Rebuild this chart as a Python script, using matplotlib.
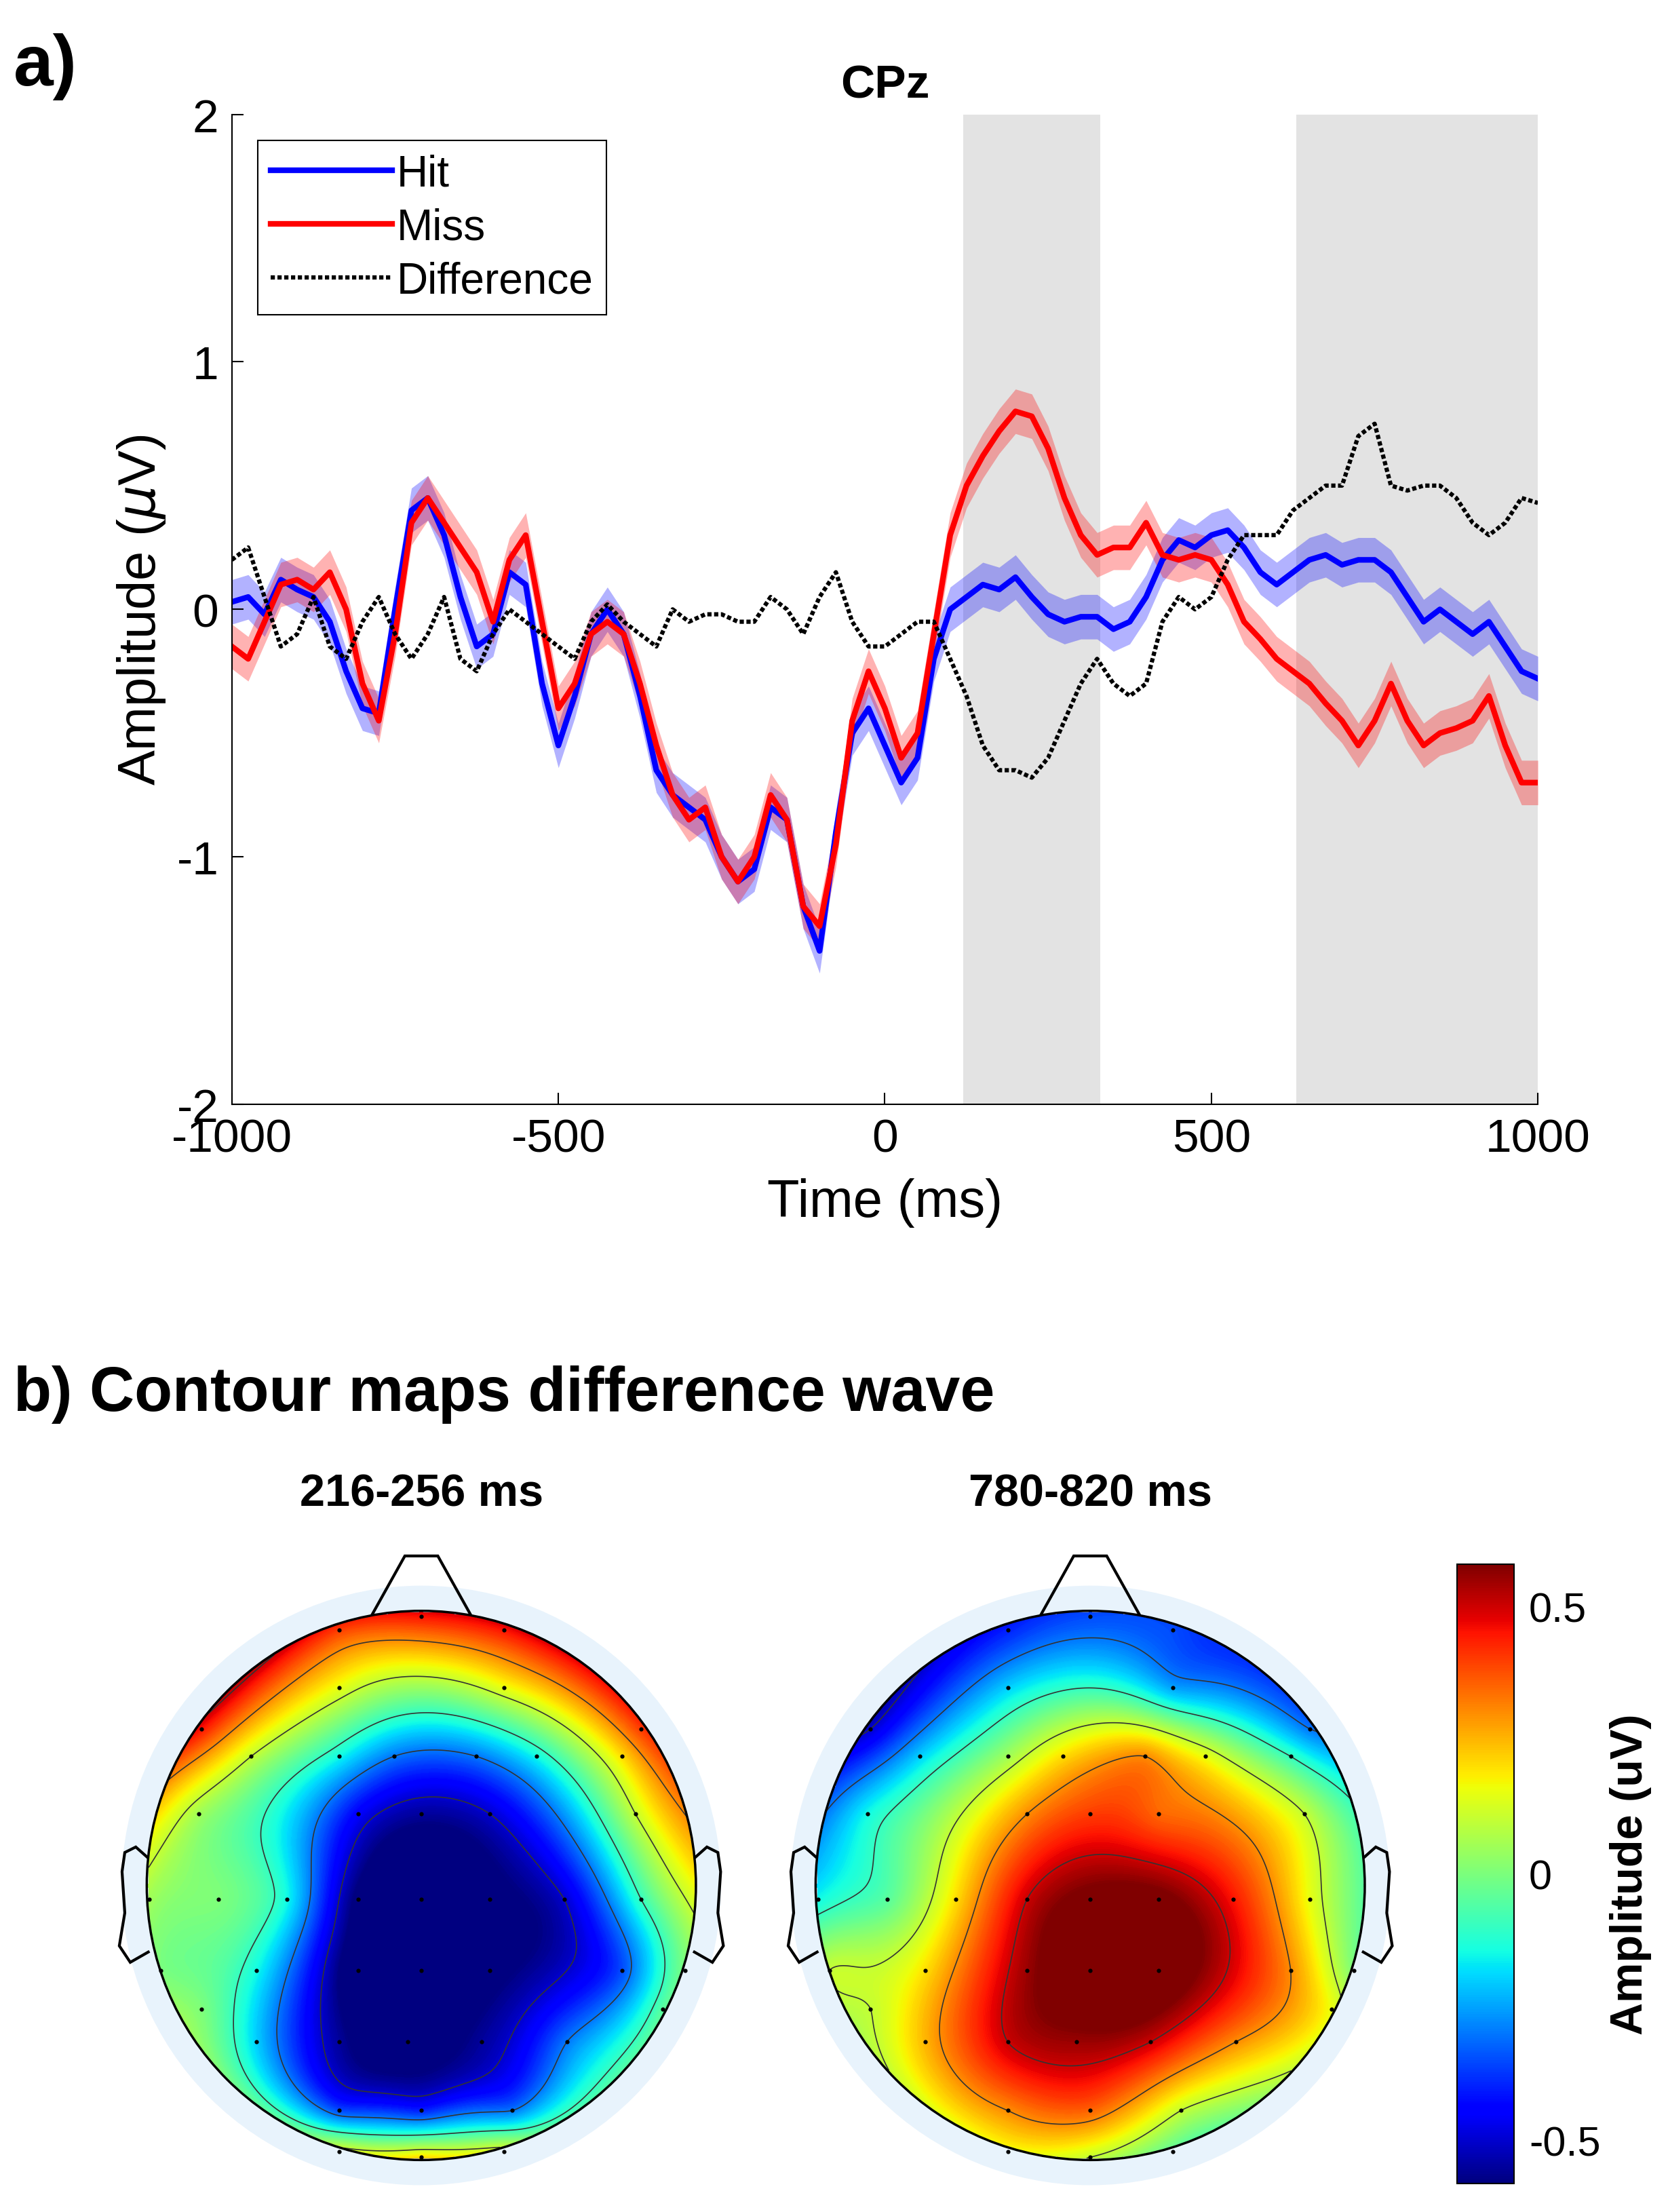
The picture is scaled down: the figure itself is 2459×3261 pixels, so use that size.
import numpy as np
import matplotlib
matplotlib.use("Agg")
import matplotlib.pyplot as plt
from matplotlib.patches import Circle, Polygon

# ---- ERP data (CPz), 25 ms steps ----
time_ms = np.arange(-1000, 1001, 25)
hit = [0.03, 0.05, -0.02, 0.12, 0.08, 0.05, -0.05, -0.25, -0.4, -0.42, 0.0, 0.4, 0.45, 0.3, 0.05, -0.15,
       -0.1, 0.15, 0.1, -0.3, -0.55, -0.35, -0.1, 0.0, -0.1, -0.35, -0.65, -0.75, -0.8, -0.85, -1.0, -1.1,
       -1.05, -0.8, -0.85, -1.2, -1.38, -0.9, -0.5, -0.4, -0.55, -0.7, -0.6, -0.2, 0.0, 0.05, 0.1, 0.08,
       0.13, 0.05, -0.02, -0.05, -0.03, -0.03, -0.08, -0.05, 0.05, 0.2, 0.28, 0.25, 0.3, 0.32, 0.25, 0.15,
       0.1, 0.15, 0.2, 0.22, 0.18, 0.2, 0.2, 0.15, 0.05, -0.05, 0.0, -0.05, -0.1, -0.05, -0.15, -0.25, -0.28]
miss = [-0.15, -0.2, -0.05, 0.1, 0.12, 0.08, 0.15, 0.0, -0.3, -0.45, -0.1, 0.35, 0.45, 0.35, 0.25, 0.15,
        -0.05, 0.2, 0.3, -0.05, -0.4, -0.3, -0.1, -0.05, -0.1, -0.3, -0.55, -0.75, -0.85, -0.8, -1.0, -1.1,
        -1.0, -0.75, -0.85, -1.2, -1.28, -0.95, -0.45, -0.25, -0.4, -0.6, -0.5, -0.1, 0.3, 0.5, 0.62, 0.72,
        0.8, 0.78, 0.65, 0.45, 0.3, 0.22, 0.25, 0.25, 0.35, 0.22, 0.2, 0.22, 0.2, 0.1, -0.05, -0.12,
        -0.2, -0.25, -0.3, -0.38, -0.45, -0.55, -0.45, -0.3, -0.45, -0.55, -0.5, -0.48, -0.45, -0.35, -0.55, -0.7, -0.7]
difference = [0.2, 0.25, 0.05, -0.15, -0.1, 0.05, -0.15, -0.2, -0.05, 0.05, -0.1, -0.2, -0.1, 0.05, -0.2, -0.25,
              -0.1, 0.0, -0.05, -0.1, -0.15, -0.2, -0.05, 0.02, -0.05, -0.1, -0.15, 0.0, -0.05, -0.02, -0.02, -0.05,
              -0.05, 0.05, 0.0, -0.1, 0.05, 0.15, -0.05, -0.15, -0.15, -0.1, -0.05, -0.05, -0.2, -0.35, -0.55, -0.65,
              -0.65, -0.68, -0.6, -0.45, -0.3, -0.2, -0.3, -0.35, -0.3, -0.05, 0.05, 0.0, 0.05, 0.2, 0.3, 0.3,
              0.3, 0.4, 0.45, 0.5, 0.5, 0.7, 0.75, 0.5, 0.48, 0.5, 0.5, 0.45, 0.35, 0.3, 0.35, 0.45, 0.43]
sem_hit = 0.09
sem_miss = 0.09
windows = [(120, 330), (630, 1000)]

# ---- topomap electrodes (head radius units) ----
elec_x = [0, -0.3, 0.3, -0.3, 0.3, -0.8, 0.8, -0.62, -0.3, -0.1, 0.2, 0.42, 0.73,
          -0.81, -0.23, 0, 0.25, 0.78, -0.99, -0.74, -0.49, -0.23, 0, 0.25, 0.52, 0.8,
          -0.95, -0.6, -0.23, 0, 0.25, 0.73, 0.96, -0.8, 0.88, -0.6, -0.3, -0.05, 0.22, 0.53,
          -0.3, 0, 0.33, -0.3, 0, 0.3]
elec_y = [0.98, 0.93, 0.93, 0.72, 0.72, 0.57, 0.57, 0.47, 0.47, 0.47, 0.47, 0.47, 0.47,
          0.26, 0.26, 0.26, 0.26, 0.26, -0.05, -0.05, -0.05, -0.05, -0.05, -0.05, -0.05, -0.05,
          -0.31, -0.31, -0.31, -0.31, -0.31, -0.31, -0.31, -0.45, -0.45, -0.57, -0.57, -0.57, -0.57, -0.57,
          -0.82, -0.82, -0.82, -0.97, -0.99, -0.97]
map_216 = [0.45, 0.4, 0.45, 0.15, 0.15, 0.45, 0.4, 0.1, -0.15, -0.3, -0.3, -0.15, 0.2,
           0.05, -0.45, -0.55, -0.5, 0.1, 0.05, 0.0, -0.15, -0.6, -0.65, -0.6, -0.5, -0.1,
           0.0, -0.15, -0.65, -0.65, -0.6, -0.35, 0.0, 0.0, -0.05, -0.2, -0.55, -0.6, -0.55, -0.3,
           -0.35, -0.4, -0.3, 0.15, 0.2, 0.15]
map_780 = [-0.35, -0.4, -0.35, -0.2, -0.25, -0.5, -0.3, -0.2, 0.05, 0.2, 0.3, 0.15, -0.1,
           -0.15, 0.3, 0.4, 0.35, 0.1, -0.15, -0.05, 0.2, 0.5, 0.6, 0.6, 0.45, 0.15,
           0.1, 0.2, 0.55, 0.65, 0.65, 0.3, 0.0, 0.1, 0.15, 0.25, 0.5, 0.55, 0.5, 0.3,
           0.3, 0.35, 0.1, 0.15, 0.1, -0.05]
map_titles = ["216-256 ms", "780-820 ms"]


def biharmonic(xe, ye, ve, gx, gy):
    xe, ye, ve = map(np.asarray, (xe, ye, ve))
    d = np.hypot(xe[:, None] - xe[None, :], ye[:, None] - ye[None, :])
    with np.errstate(divide="ignore", invalid="ignore"):
        G = np.where(d > 0, d ** 2 * (np.log(d) - 1), 0)
    w = np.linalg.solve(G, ve)
    dg = np.hypot(gx[..., None] - xe, gy[..., None] - ye)
    with np.errstate(divide="ignore", invalid="ignore"):
        Gg = np.where(dg > 0, dg ** 2 * (np.log(dg) - 1), 0)
    return Gg @ w


plt.rcParams["font.family"] = "Liberation Sans"
plt.rcParams["axes.unicode_minus"] = False
plt.rcParams["mathtext.fontset"] = "dejavusans"
fig = plt.figure(figsize=(24.59, 32.62), dpi=100)

# ---- panel a ----
ax = fig.add_axes([0.139, 0.5006, 0.783, 0.4474])
for a, b in windows:
    ax.axvspan(a, b, color="#e3e3e3", lw=0, zorder=0)
ax.fill_between(time_ms, np.array(hit) - sem_hit, np.array(hit) + sem_hit, color="#0000ff", alpha=0.3, lw=0)
ax.fill_between(time_ms, np.array(miss) - sem_miss, np.array(miss) + sem_miss, color="#ff0000", alpha=0.3, lw=0)
ax.plot(time_ms, hit, color="#0000ff", lw=6, label="Hit")
ax.plot(time_ms, miss, color="#ff0000", lw=6, label="Miss")
ax.plot(time_ms, difference, color="black", lw=4.5, ls=(0, (1, 0.6)), label="Difference")
ax.set_xlim(-1000, 1000)
ax.set_ylim(-2, 2)
ax.set_xticks([-1000, -500, 0, 500, 1000])
ax.set_yticks([-2, -1, 0, 1, 2])
ax.tick_params(direction="in", labelsize=50, length=12, width=1.5, pad=14)
for s in ["top", "right"]:
    ax.spines[s].set_visible(False)
for s in ["left", "bottom"]:
    ax.spines[s].set_linewidth(1.5)
ax.set_xlabel("Time (ms)", fontsize=56, labelpad=18)
ax.set_ylabel("Amplitude ($\\mu$V)", fontsize=56, labelpad=10)
ax.set_title("CPz", fontsize=50, fontweight="bold", pad=18)
leg = ax.legend(loc="upper left", fontsize=46, handlelength=2.8, handletextpad=0.1,
                borderaxespad=0.6, fancybox=False, edgecolor="black", framealpha=1,
                labelspacing=0.3, borderpad=0.3)
leg.get_frame().set_linewidth(1.5)
fig.text(0.008, 0.985, "a)", fontsize=76, fontweight="bold", va="top")
fig.text(0.008, 0.383, "b) Contour maps difference wave", fontsize=66, fontweight="bold", va="top")

# ---- panel b ----
gx, gy = np.meshgrid(np.linspace(-1, 1, 301), np.linspace(-1, 1, 301))
inside = np.hypot(gx, gy) <= 1.0
levels = np.linspace(-0.58, 0.58, 200)
for i, (vals, left) in enumerate([(map_216, 0.0386), (map_780, 0.4396)]):
    tax = fig.add_axes([left, 0.011, 0.428, 0.298])
    tax.patch.set_alpha(0)
    z = biharmonic(elec_x, elec_y, vals, gx, gy)
    z = np.clip(z, -0.579, 0.579)
    z = np.where(inside, z, np.nan)
    tax.add_patch(Circle((0, 0), 1.09, color="#e8f3fc", zorder=0))
    tax.contourf(gx, gy, z, levels=levels, cmap="jet", zorder=1)
    tax.contour(gx, gy, z, levels=[-0.5, -0.3, -0.1, 0.1, 0.3, 0.5], colors="#333333",
                linewidths=1.2, linestyles="solid", zorder=2)
    tax.add_patch(Circle((0, 0), 1.0, fill=False, ec="black", lw=2.5, zorder=3))
    tax.add_patch(Polygon([[-0.18, 0.985], [-0.06, 1.2], [0.06, 1.2], [0.18, 0.985]],
                          closed=False, fill=False, ec="black", lw=3, zorder=3))
    for sgn in (-1, 1):
        ear = [[sgn * 0.995, 0.1], [sgn * 1.04, 0.14], [sgn * 1.08, 0.12], [sgn * 1.09, 0.05],
               [sgn * 1.08, -0.1], [sgn * 1.1, -0.22], [sgn * 1.06, -0.28], [sgn * 0.99, -0.24]]
        tax.add_patch(Polygon(ear, closed=False, fill=False, ec="black", lw=3, zorder=3))
    tax.scatter(elec_x, elec_y, s=12, color="black", zorder=4)
    tax.set_xlim(-1.3, 1.3)
    tax.set_ylim(-1.1, 1.3)
    tax.set_aspect("equal")
    tax.axis("off")
    tax.text(0, 1.35, map_titles[i], ha="center", va="bottom", fontsize=48, fontweight="bold")

cax = fig.add_axes([0.8735, 0.0129, 0.034, 0.28])
sm = matplotlib.cm.ScalarMappable(norm=matplotlib.colors.Normalize(-0.58, 0.58), cmap="jet")
cb = fig.colorbar(sm, cax=cax, ticks=[-0.5, 0, 0.5])
cb.ax.set_yticklabels(["-0.5", "0", "0.5"])
cb.ax.tick_params(labelsize=44, length=0, pad=16)
cb.outline.set_linewidth(1.5)
cb.set_label("Amplitude (uV)", fontsize=48, fontweight="bold", labelpad=10)

fig.savefig("out.png", dpi=100)
